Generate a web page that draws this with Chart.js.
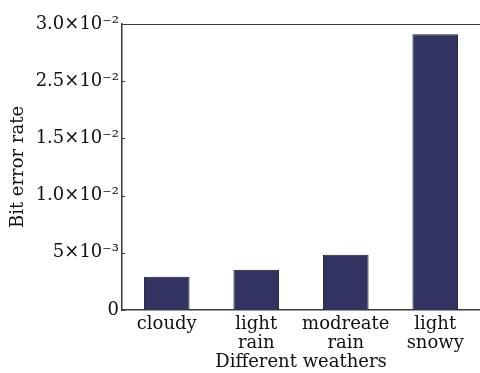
<!DOCTYPE html>
<html>
<head>
<meta charset="utf-8">
<script src="https://cdn.jsdelivr.net/npm/chart.js@4/dist/chart.umd.min.js"></script>
<style>
html,body{margin:0;padding:0;background:#fff;}
#wrap{width:480px;height:373px;position:relative;}
</style>
</head>
<body>
<div id="wrap"><canvas id="chart"></canvas></div>
<script>
// weathers and bit error rate
const weathers=['cloudy',['light','rain'],['modreate','rain'],['light','snowy']];
const ber=[0.00349,0.00422,0.00579,0.02892];
// tick labels as printed (the original skips 2.0)
const yTicks=['0','5×10⁻³','1.0×10⁻²','1.5×10⁻²','2.5×10⁻²','3.0×10⁻²'];
const yMax=0.03, yStep=0.006;

const serif='"DejaVu Serif", "Liberation Serif", serif';
const axisCol='#3a3a3a';

// top frame line and inward tick marks
const frame={
  id:'frame',
  afterDraw(chart){
    const {ctx,chartArea:a,scales}=chart;
    ctx.save();
    ctx.strokeStyle=axisCol;
    ctx.lineWidth=1.2;
    ctx.beginPath();
    ctx.moveTo(a.left,a.top+0.5);
    ctx.lineTo(a.right,a.top+0.5);
    scales.y.ticks.forEach((t,i)=>{
      const y=Math.round(scales.y.getPixelForTick(i))+0.5;
      ctx.moveTo(a.left,y);ctx.lineTo(a.left+3,y);
    });
    ctx.stroke();
    ctx.restore();
  }
};

new Chart(document.getElementById('chart'),{
  type:'bar',
  data:{labels:weathers,datasets:[{
    data:ber,
    backgroundColor:'#323360',
    borderColor:'#1c1c2c',
    borderWidth:1,
    categoryPercentage:1,
    barPercentage:0.51
  }]},
  options:{
    responsive:true,maintainAspectRatio:false,animation:false,
    layout:{padding:{top:24,right:0,left:0,bottom:0}},
    plugins:{legend:{display:false},tooltip:{enabled:false}},
    scales:{
      x:{
        grid:{display:false,drawTicks:false},
        border:{color:axisCol,width:1.5},
        ticks:{color:'#111',font:{family:serif,size:18,lineHeight:1.05},padding:5,maxRotation:0,autoSkip:false},
        title:{display:true,text:'Different weathers',color:'#111',font:{family:serif,size:18},padding:{top:1,bottom:0}},
        afterFit(s){s.height=63;}
      },
      y:{
        min:0,max:yMax,
        grid:{display:false,drawTicks:false},
        border:{color:axisCol,width:1.5},
        ticks:{stepSize:yStep,color:'#111',font:{family:serif,size:18},padding:3,
          callback:(v,i)=>yTicks[i]},
        title:{display:true,text:'Bit error rate',color:'#111',font:{family:serif,size:18},padding:{top:8,bottom:4}},
        afterFit(s){s.width=122;}
      }
    }
  },
  plugins:[frame]
});
</script>
</body>
</html>
